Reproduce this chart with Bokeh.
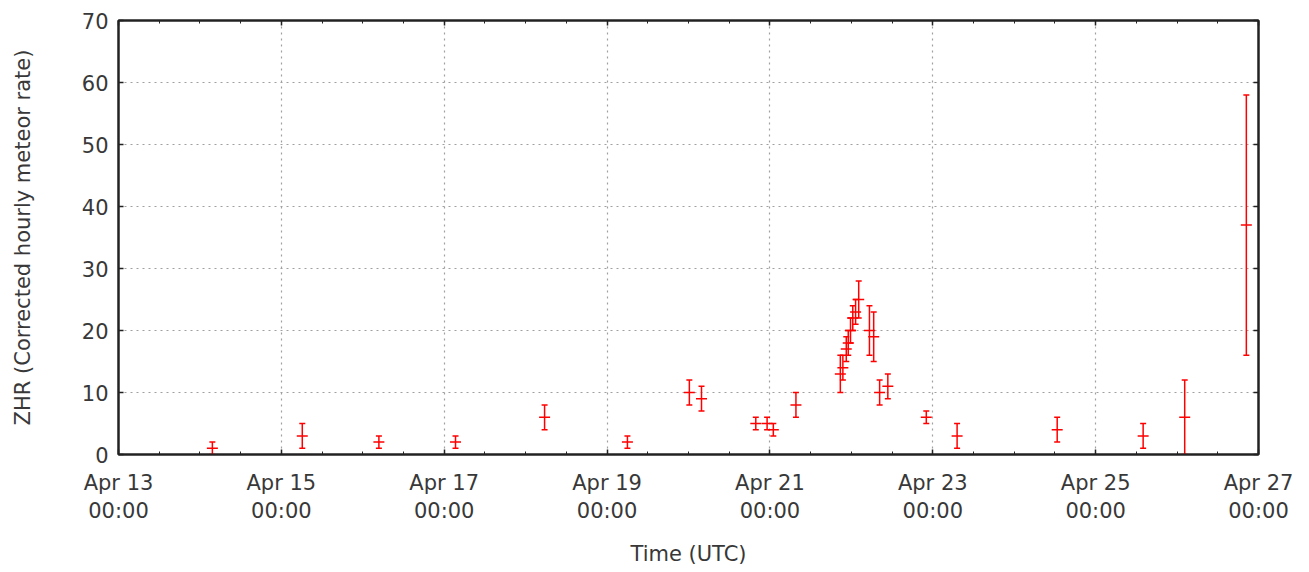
import pandas as pd
from bokeh.plotting import figure
from bokeh.models import (ColumnDataSource, Whisker, TeeHead, FixedTicker, DatetimeTickFormatter,
                          Range1d, LinearAxis, DatetimeAxis, CustomJSTickFormatter)
from bokeh.embed import file_html
from bokeh.resources import INLINE

# ---- data ----
times = ["2020-04-14 03:40", "2020-04-15 06:10", "2020-04-16 04:45", "2020-04-17 03:20",
         "2020-04-18 05:35", "2020-04-19 06:00", "2020-04-20 00:15", "2020-04-20 03:50",
         "2020-04-20 19:50", "2020-04-20 23:10", "2020-04-21 01:00", "2020-04-21 07:40",
         "2020-04-21 20:45", "2020-04-21 21:30", "2020-04-21 22:30", "2020-04-21 23:05",
         "2020-04-21 23:45", "2020-04-22 00:25", "2020-04-22 01:15", "2020-04-22 02:10",
         "2020-04-22 05:20", "2020-04-22 06:35", "2020-04-22 08:20", "2020-04-22 10:45",
         "2020-04-22 22:05", "2020-04-23 07:10", "2020-04-24 12:40", "2020-04-25 14:00",
         "2020-04-26 02:15", "2020-04-26 20:25"]
zhr = [1, 3, 2, 2, 6, 2, 10, 9, 5, 5, 4, 8, 13, 14, 17, 18, 20, 22, 23, 25,
       20, 19, 10, 11, 6, 3, 4, 3, 6, 37]
err = [1, 2, 1, 1, 2, 1, 2, 2, 1, 1, 1, 2, 3, 2, 2, 2, 2, 2, 2, 3,
       4, 4, 2, 2, 1, 2, 2, 2, 6, 21]

x_start = "2020-04-13 00:00"
x_end = "2020-04-27 00:00"
major_tick_dates = ["2020-04-13", "2020-04-15", "2020-04-17", "2020-04-19",
                    "2020-04-21", "2020-04-23", "2020-04-25", "2020-04-27"]
y_ticks = [0, 10, 20, 30, 40, 50, 60, 70]

# ---- build ----
t = pd.to_datetime(times)
src = ColumnDataSource(dict(
    x=t,
    y=zhr,
    lo=[v - e for v, e in zip(zhr, err)],
    hi=[v + e for v, e in zip(zhr, err)],
))

def ms(s):
    return pd.Timestamp(s).value / 1e6

major_ms = [ms(d) for d in major_tick_dates]
minor_ms = [m.value / 1e6 for m in pd.date_range(x_start, x_end, freq="12h")]

FONT = "DejaVu Sans"
TXT = "#383838"
AX = "#222222"

p = figure(width=1309, height=572, output_backend="svg", toolbar_location=None,
           x_axis_type="datetime",
           x_range=Range1d(pd.Timestamp(x_start), pd.Timestamp(x_end)),
           y_range=Range1d(0, 70),
           min_border_left=118, min_border_right=51, min_border_top=20, min_border_bottom=118)

p.outline_line_color = AX
p.outline_line_width = 2

ticker_x = FixedTicker(ticks=major_ms, minor_ticks=minor_ms)
ticker_y = FixedTicker(ticks=y_ticks, minor_ticks=[])
fmt = DatetimeTickFormatter(days="%b %d\n%H:%M", months="%b %d\n%H:%M", hours="%b %d\n%H:%M",
                            years="%b %d\n%H:%M")

xa = p.xaxis[0]
xa.ticker = ticker_x
xa.formatter = fmt
ya = p.yaxis[0]
ya.ticker = ticker_y

for ax in (xa, ya):
    ax.major_tick_in = 5
    ax.major_tick_out = 0
    ax.minor_tick_in = 3
    ax.minor_tick_out = 0
    ax.axis_line_color = AX
    ax.axis_line_width = 2
    ax.major_tick_line_color = AX
    ax.major_tick_line_width = 1.5
    ax.minor_tick_line_color = AX
    ax.major_label_text_font = FONT
    ax.major_label_text_font_size = "21px"
    ax.major_label_text_color = TXT
    ax.axis_label_text_font = FONT
    ax.axis_label_text_font_size = "21px"
    ax.axis_label_text_color = TXT
    ax.axis_label_text_font_style = "normal"

xa.axis_label = "Time (UTC)"
xa.major_label_standoff = 16
xa.axis_label_standoff = 16
ya.axis_label = "ZHR (Corrected hourly meteor rate)"
ya.major_label_standoff = 10
ya.axis_label_standoff = 44

# mirrored axes (ticks only, labels not drawn)
blank = CustomJSTickFormatter(code="return ''")
ra = LinearAxis(ticker=ticker_y, formatter=blank, major_label_text_font_size="1px",
                major_label_text_color=None, major_label_standoff=0,
                major_tick_in=5, major_tick_out=0,
                minor_tick_in=0, minor_tick_out=0, axis_line_color=AX, axis_line_width=2,
                major_tick_line_color=AX, major_tick_line_width=1.5)
ta = DatetimeAxis(ticker=ticker_x, formatter=blank, major_label_text_font_size="1px",
                  major_label_text_color=None, major_label_standoff=0,
                  major_tick_in=5, major_tick_out=0,
                  minor_tick_in=3, minor_tick_out=0, axis_line_color=AX, axis_line_width=2,
                  major_tick_line_color=AX, major_tick_line_width=1.5,
                  minor_tick_line_color=AX)
p.add_layout(ra, "right")
p.add_layout(ta, "above")

for g in (p.xgrid[0], p.ygrid[0]):
    g.grid_line_color = "#a0a0a0"
    g.grid_line_dash = "2 4"
    g.grid_line_width = 1.2
p.xgrid[0].ticker = ticker_x
p.ygrid[0].ticker = ticker_y

wh = Whisker(source=src, base="x", lower="lo", upper="hi", dimension="height",
             line_color="#ff0000", line_width=1.5,
             upper_head=TeeHead(size=6, line_color="#ff0000", line_width=1.5),
             lower_head=TeeHead(size=6, line_color="#ff0000", line_width=1.5))
p.add_layout(wh)
p.scatter("x", "y", source=src, marker="dash", size=11, line_color="#ff0000", line_width=1.5)

open("out.html", "w").write(file_html(p, INLINE))
